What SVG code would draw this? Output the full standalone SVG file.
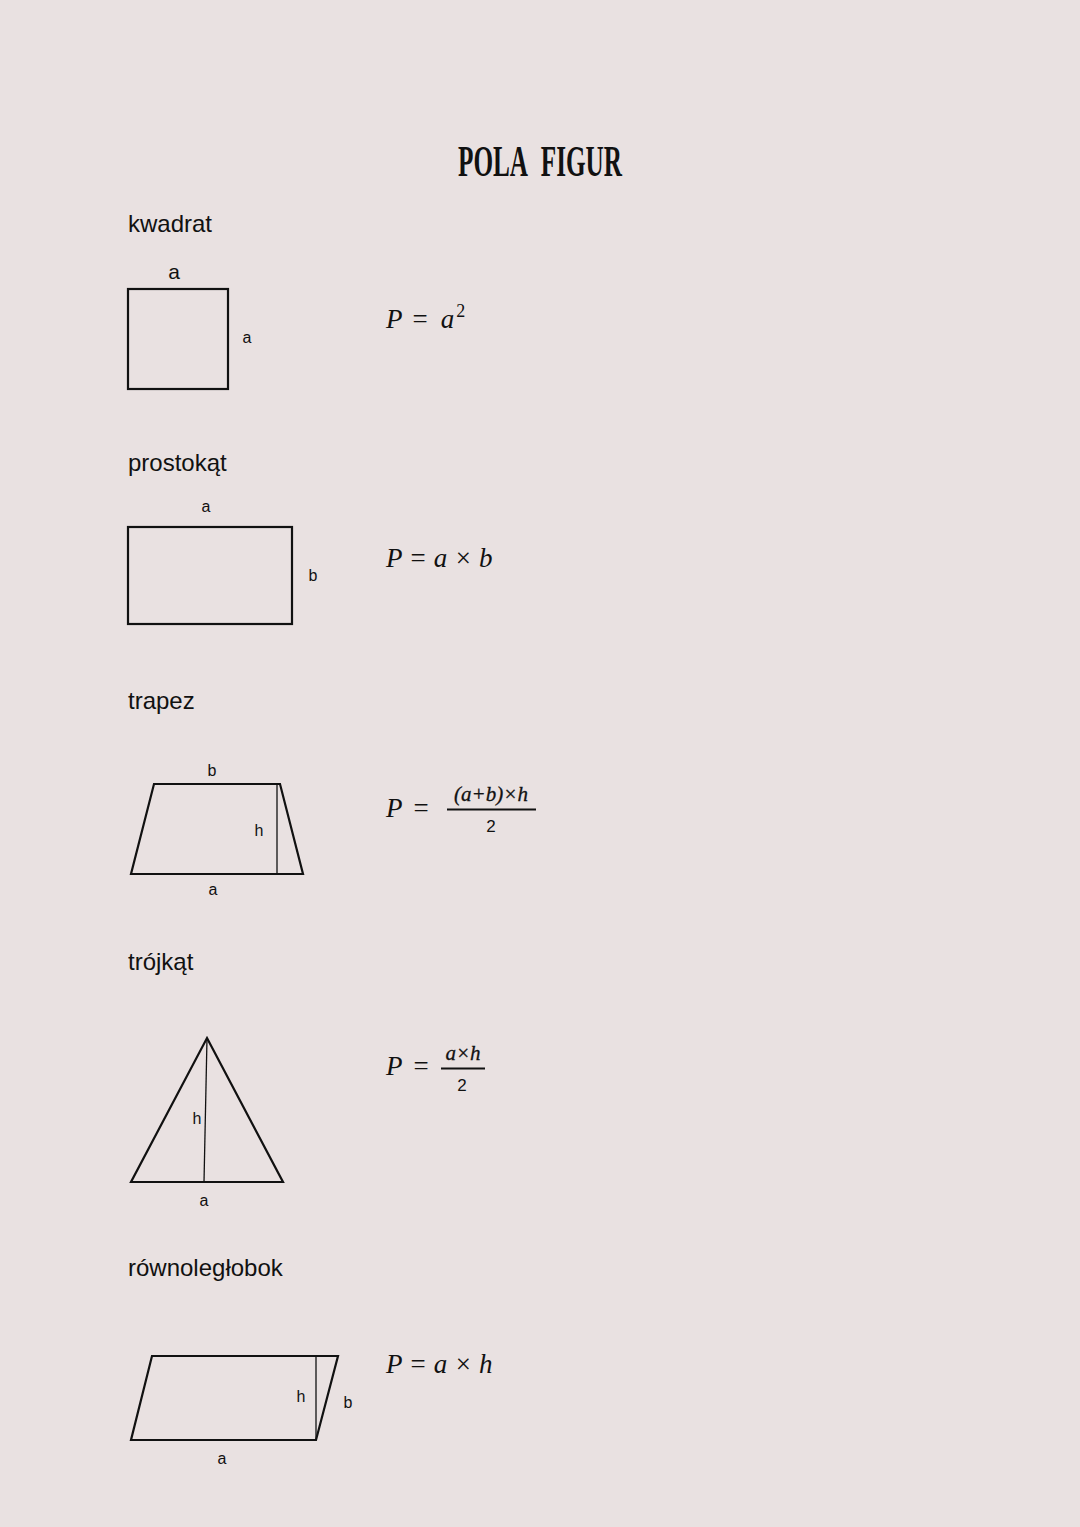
<svg xmlns="http://www.w3.org/2000/svg" width="1080" height="1527" viewBox="0 0 1080 1527">
<style>
.bg{fill:#E9E1E1}
.shape{fill:none;stroke:#111;stroke-width:2.2;stroke-linejoin:miter}
.thin{fill:none;stroke:#111;stroke-width:1.3}
.lbl{font-family:"Liberation Sans","Open Sans",sans-serif;font-size:24px;fill:#111}
.sm{font-family:"Liberation Sans","Open Sans",sans-serif;font-size:16px;fill:#111;text-anchor:middle}
.mid{font-family:"Liberation Sans","Open Sans",sans-serif;font-size:21px;fill:#111;text-anchor:middle}
.f{font-family:"Liberation Serif","DejaVu Serif",serif;font-style:italic;font-size:27px;fill:#111}
.fs{font-family:"Liberation Serif","DejaVu Serif",serif;font-style:italic;font-size:21px;fill:#111;text-anchor:middle;stroke:#111;stroke-width:0.3}
.fn{font-family:"Liberation Sans",sans-serif;font-size:17px;fill:#111;text-anchor:middle}
.title{font-family:"Liberation Serif",serif;font-weight:bold;font-size:45px;fill:#111;word-spacing:14px}
</style>
<rect class="bg" x="0" y="0" width="1080" height="1527"/>
<text class="title" x="458" y="176" textLength="164" lengthAdjust="spacingAndGlyphs">POLA FIGUR</text>

<g id="kwadrat">
<text class="lbl" x="128" y="232">kwadrat</text>
<rect class="shape" x="128" y="289" width="100" height="100"/>
<text class="mid" x="174" y="279">a</text>
<text class="sm" x="247" y="343">a</text>
<text class="f" x="386" y="328">P <tspan dx="2">=</tspan> <tspan dx="5">a</tspan><tspan font-style="normal" font-size="18" dx="2" dy="-11">2</tspan></text>
</g>

<g id="prostokat">
<text class="lbl" x="128" y="471">prostokąt</text>
<rect class="shape" x="128" y="527" width="164" height="97"/>
<text class="sm" x="206" y="512">a</text>
<text class="sm" x="313" y="581">b</text>
<text class="f" x="386" y="567">P = a × b</text>
</g>

<g id="trapez">
<text class="lbl" x="128" y="709">trapez</text>
<polygon class="shape" points="154,784 280,784 303,874 131,874"/>
<line class="thin" x1="277" y1="784" x2="277" y2="874"/>
<text class="sm" x="212" y="776">b</text>
<text class="sm" x="259" y="836">h</text>
<text class="sm" x="213" y="895">a</text>
<text class="f" x="386" y="817">P <tspan dx="3">=</tspan></text>
<text class="fs" x="491" y="801">(a+b)×h</text>
<line x1="447" y1="809.5" x2="536" y2="809.5" stroke="#111" stroke-width="2"/>
<text class="fn" x="491" y="832">2</text>
</g>

<g id="trojkat">
<text class="lbl" x="128" y="970">trójkąt</text>
<polygon class="shape" points="207,1038 283,1182 131,1182"/>
<line class="thin" x1="207" y1="1038" x2="204" y2="1182"/>
<text class="sm" x="197" y="1124">h</text>
<text class="sm" x="204" y="1206">a</text>
<text class="f" x="386" y="1075">P <tspan dx="3">=</tspan></text>
<text class="fs" x="463" y="1060">a×h</text>
<line x1="441" y1="1068.5" x2="485" y2="1068.5" stroke="#111" stroke-width="2"/>
<text class="fn" x="462" y="1091">2</text>
</g>

<g id="rownoleglobok">
<text class="lbl" x="128" y="1276">równoległobok</text>
<polygon class="shape" points="152,1356 338,1356 316,1440 131,1440"/>
<line class="thin" x1="316" y1="1356" x2="316" y2="1440"/>
<text class="sm" x="301" y="1402">h</text>
<text class="sm" x="348" y="1408">b</text>
<text class="sm" x="222" y="1464">a</text>
<text class="f" x="386" y="1373">P = a × h</text>
</g>
<g id="connectors"/>
</svg>
